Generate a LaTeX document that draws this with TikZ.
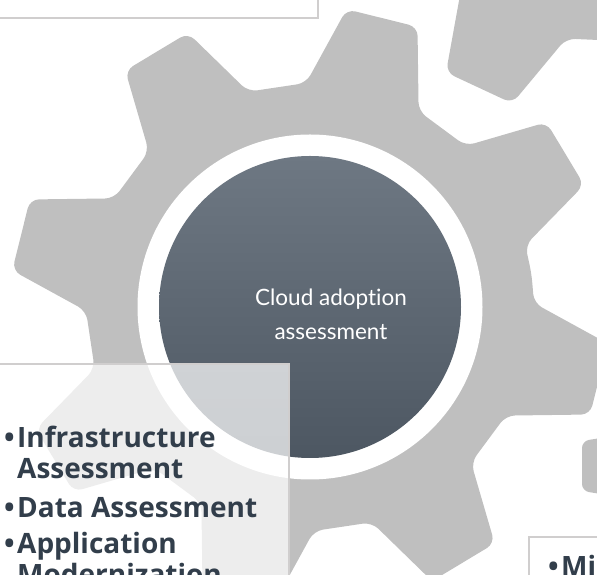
\documentclass[tikz,border=0pt]{standalone}
\usepackage{fontspec}
\setmainfont{Open Sans}
\newfontfamily\hubfont{Lato}[Ligatures=NoCommon]

\definecolor{gearfill}{HTML}{BFBFBF}
\definecolor{hubtop}{HTML}{6E7883}
\definecolor{hubbot}{HTML}{4D5762}
\definecolor{panelline}{HTML}{D0CECE}
\definecolor{inktext}{HTML}{323E4B}

\tikzset{
  pics/gear/.style = {code = {
    \fill[gearfill, rounded corners=9pt] ({#1-22.5}:224)
      \foreach \k in {0,...,7}{
        -- ({#1+45*\k-15}:224) -- ({#1+45*\k-7}:300)
        -- ({#1+45*\k+7}:300) -- ({#1+45*\k+15}:224)}
      -- cycle;
  }},
  panel/.style = {draw=panelline, line width=2pt, fill=white, fill opacity=0.72},
  bullets/.style = {text=inktext, font=\bfseries\fontsize{28}{31}\selectfont,
    align=left, inner sep=0pt}
}

\newcommand{\bul}{\makebox[13pt][l]{•}}
\newcommand{\hang}{\hspace*{13pt}}

\begin{document}
\begin{tikzpicture}[x=1pt, y=1pt]
   \useasboundingbox (0,0) rectangle (597,575);
   \clip (0,0) rectangle (597,575);

   \pic at (310,268) {gear=31};
   \pic at (605,757) {gear=20};
   \fill[gearfill, rounded corners=7pt] (620,140) -- (582,134) -- (582,84) -- (620,78) -- cycle;

   \fill[white] (310,268) circle (172.5);
   \node[circle, minimum size=302pt, inner sep=0pt,
         top color=hubtop, bottom color=hubbot] (hub) at (310,268) {};
   \node[text=white, font=\hubfont\fontsize{22.5}{34}\selectfont, align=center] (title)
         at (331,261) {Cloud adoption\\assessment};

   \draw[panel] (-10,557) rectangle (318,600);
   \draw[panel] (-10,-30) rectangle (289,211);
   \draw[panel] (529,-30) rectangle (610,38);

   \node[bullets, anchor=base west] (tasks) at (4,-10)
      {\bul Infrastructure\\\hang Assessment\\[8pt]\bul Data Assessment\\[5pt]\bul Application\\\hang Modernization};
   \node[bullets, anchor=base west] (next) at (548,-2) {\bul Mi};
\end{tikzpicture}
\end{document}
